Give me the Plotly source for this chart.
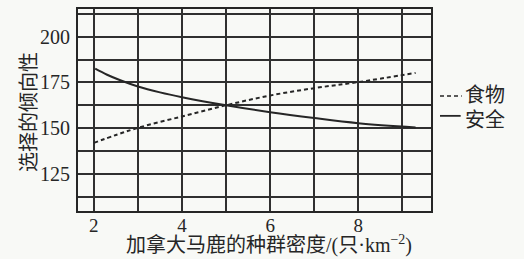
import plotly.graph_objects as go

# Data
x_food = [2.0, 2.5, 3.0, 4.0, 5.0, 6.0, 7.0, 8.0, 9.3]
food = [142.1, 146.4, 150.3, 156.5, 162.6, 167.9, 171.9, 175.2, 180.2]
x_safe = [2.03, 2.3, 2.6, 3.0, 3.5, 4.0, 5.0, 6.0, 7.0, 8.0, 9.3]
safe = [182.5, 179.2, 176.2, 172.8, 169.6, 167.0, 162.6, 158.8, 155.6, 152.8, 150.5]

x_tickvals = [2, 4, 6, 8]
y_tickvals = [125, 150, 175, 200]

ink = "#262626"
grid = "#303030"
serif = "Liberation Serif, Noto Sans CJK SC"

fig = go.Figure()
fig.add_trace(go.Scatter(x=x_food, y=food, mode="lines", name="食物",
                         line=dict(color=ink, width=2, dash="4px,3px", shape="spline", smoothing=1.0),
                         showlegend=False))
fig.add_trace(go.Scatter(x=x_safe, y=safe, mode="lines", name="安全",
                         line=dict(color=ink, width=2, shape="spline", smoothing=1.0),
                         showlegend=False))

axis_common = dict(showline=True, mirror=True, linecolor=ink, linewidth=2,
                   showgrid=True, gridcolor=grid, gridwidth=1.7, zeroline=False,
                   ticks="")
fig.update_xaxes(range=[1.64, 9.65], tickmode="array", tickvals=x_tickvals,
                 ticklabelstandoff=-4, tickfont=dict(family=serif, size=19, color=ink),
                 minor=dict(dtick=1, tick0=0, showgrid=True, gridcolor=grid, gridwidth=1.7, ticks=""),
                 **axis_common)
fig.update_yaxes(range=[105, 215], tickmode="array", tickvals=y_tickvals,
                 ticklabelstandoff=2, tickfont=dict(family=serif, size=20, color=ink),
                 minor=dict(dtick=12.5, tick0=0, showgrid=True, gridcolor=grid, gridwidth=1.7, ticks=""),
                 **axis_common)

# Axis titles
fig.add_annotation(text="加拿大马鹿的种群密度/(只·km<sup>−2</sup>)", xref="paper", yref="paper",
                   x=0.541, y=-0.167, showarrow=False, xanchor="center", yanchor="middle",
                   font=dict(family=serif, size=20, color=ink))
fig.add_annotation(text="选择的倾向性", xref="paper", yref="paper", textangle=-90,
                   x=-0.139, y=0.49, showarrow=False, xanchor="center", yanchor="middle",
                   font=dict(family=serif, size=20, color=ink))

# Legend keys
fig.add_shape(type="line", xref="paper", yref="paper", x0=1.0255, x1=1.087, y0=0.569, y1=0.569,
              line=dict(color=ink, width=1.6, dash="4px,3px"))
fig.add_shape(type="line", xref="paper", yref="paper", x0=1.0255, x1=1.084, y0=0.471, y1=0.471,
              line=dict(color=ink, width=1.8))
fig.add_annotation(text="食物", xref="paper", yref="paper", x=1.0907, y=0.574,
                   showarrow=False, xanchor="left", yanchor="middle",
                   font=dict(family=serif, size=20, color=ink))
fig.add_annotation(text="安全", xref="paper", yref="paper", x=1.0907, y=0.451,
                   showarrow=False, xanchor="left", yanchor="middle",
                   font=dict(family=serif, size=20, color=ink))

fig.update_layout(width=524, height=259, margin=dict(l=78, r=93, t=7, b=48),
                  paper_bgcolor="#f8f9f6", plot_bgcolor="#f8f9f6", showlegend=False)
fig.write_html("out.html")
